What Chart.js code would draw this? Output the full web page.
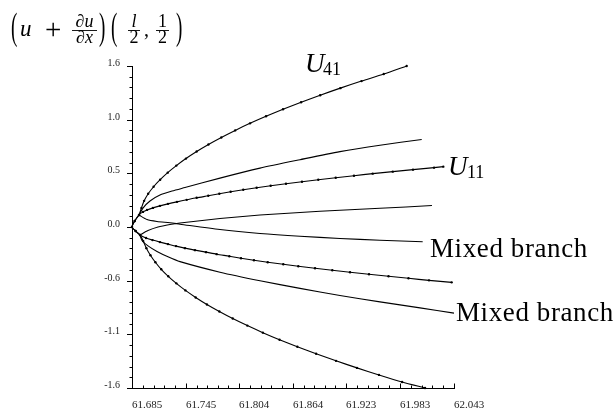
<!DOCTYPE html>
<html>
<head>
<meta charset="utf-8">
<script src="https://cdn.jsdelivr.net/npm/chart.js@4.4.0/dist/chart.umd.min.js"></script>
<style>
  html, body { margin: 0; padding: 0; background: #fff; }
  #wrap { width: 616px; height: 409px; }
</style>
</head>
<body>
<div id="wrap"><canvas id="branchChart" width="616" height="409"></canvas></div>
<script>
// Axis tick labels as printed on the figure
const xTickLabels = ["61.685", "61.745", "61.804", "61.864", "61.923", "61.983", "62.043"];
const yTickLabels = ["-1.6", "-1.1", "-0.6", "0.0", "0.5", "1.0", "1.6"];

// U41 branch (with markers), lower end -> nose -> upper end
const u41X = [62.0108, 61.9853, 61.9596, 61.9351, 61.9118, 61.8897, 61.8688, 61.849, 61.8305, 61.8132,
  61.797, 61.7821, 61.7683, 61.7558, 61.7444, 61.7343, 61.7253, 61.7175, 61.711, 61.7055,
  61.701, 61.6975, 61.694, 61.689, 61.685, 61.688, 61.6928, 61.6955, 61.6985, 61.703,
  61.709, 61.7163, 61.7247, 61.7343, 61.745, 61.7569, 61.770, 61.7843, 61.7997, 61.8162,
  61.834, 61.8529, 61.873, 61.8942, 61.9166, 61.9402, 61.9649, 61.9904];
const u41Y = [-1.60, -1.54, -1.47, -1.40, -1.33, -1.26, -1.19, -1.12, -1.05, -0.98,
  -0.91, -0.84, -0.77, -0.70, -0.63, -0.56, -0.49, -0.42, -0.35, -0.28,
  -0.21, -0.14, -0.08, -0.04, 0.00, 0.06, 0.12, 0.19, 0.26, 0.33,
  0.40, 0.47, 0.54, 0.61, 0.68, 0.75, 0.82, 0.89, 0.96, 1.03,
  1.10, 1.17, 1.24, 1.31, 1.38, 1.45, 1.52, 1.60];

// U11 branch (with markers)
const u11X = [62.0404, 62.0152, 61.9924, 61.9702, 61.9485, 61.9274, 61.9077, 61.8885, 61.8699, 61.8532,
  61.8359, 61.8206, 61.8062, 61.7932, 61.7792, 61.7673, 61.755, 61.7439, 61.7339, 61.725,
  61.7161, 61.7078, 61.7006, 61.6939, 61.689, 61.685, 61.688, 61.6928, 61.6972, 61.7017,
  61.7083, 61.7161, 61.725, 61.735, 61.7458, 61.7569, 61.7698, 61.7821, 61.7947, 61.8087,
  61.8236, 61.8392, 61.8562, 61.874, 61.8921, 61.9115, 61.9318, 61.9526, 61.9749, 61.9974,
  62.0208, 62.0311];
const u11Y = [-0.55, -0.53, -0.51, -0.49, -0.47, -0.45, -0.43, -0.41, -0.39, -0.37,
  -0.35, -0.33, -0.31, -0.29, -0.27, -0.25, -0.23, -0.21, -0.19, -0.17,
  -0.15, -0.13, -0.11, -0.08, -0.04, 0.00, 0.06, 0.12, 0.15, 0.17,
  0.19, 0.21, 0.23, 0.25, 0.27, 0.29, 0.31, 0.33, 0.35, 0.37,
  0.39, 0.41, 0.43, 0.45, 0.47, 0.49, 0.51, 0.53, 0.55, 0.57,
  0.59, 0.60];

// Mixed branches (plain lines)
const mixAX = [61.6928, 61.6972, 61.705, 61.7161, 61.7295, 61.7439, 61.7828, 61.8273, 61.8718, 61.9162, 61.9607, 62.0071];
const mixAY = [0.119, 0.188, 0.258, 0.317, 0.357, 0.392, 0.486, 0.585, 0.669, 0.749, 0.813, 0.870];
const mixBX = [61.6939, 61.7028, 61.7139, 61.7272, 61.7384, 61.7828, 61.8273, 61.8718, 61.9162, 61.9607, 62.0185];
const mixBY = [-0.079, -0.035, 0.000, 0.025, 0.040, 0.084, 0.119, 0.144, 0.167, 0.186, 0.213];
const mixCX = [61.6928, 61.7017, 61.7128, 61.7272, 61.7384, 61.7828, 61.8273, 61.8718, 61.9162, 61.9607, 62.0082];
const mixCY = [0.119, 0.074, 0.055, 0.042, 0.028, -0.025, -0.064, -0.092, -0.114, -0.131, -0.146];
const mixDX = [61.6939, 61.6961, 61.7028, 61.7128, 61.725, 61.7384, 61.7828, 61.8273, 61.8718, 61.9162, 61.9607, 62.0052, 62.043];
const mixDY = [-0.079, -0.134, -0.188, -0.243, -0.296, -0.344, -0.449, -0.534, -0.610, -0.680, -0.744, -0.804, -0.856];

const SERIF = '"Liberation Serif", "Times New Roman", serif';

function toPoints(xs, ys) {
    return xs.map((x, i) => ({ x: x, y: ys[i] }));
}

function branch(label, xs, ys, dots) {
    return {
        label: label,
        data: toPoints(xs, ys),
        showLine: true,
        borderColor: "#000",
        backgroundColor: "#000",
        borderWidth: 1.1,
        pointRadius: dots ? 1.2 : 0,
        pointBorderWidth: 0,
        tension: 0.25,
        clip: false,
    };
}

// small tick marks (major + 4 minor) like the original plot
const tickMarks = {
    id: "tickMarks",
    afterDraw(chart) {
        const ctx = chart.ctx;
        const xs = chart.scales.x;
        const ys = chart.scales.y;
        const area = chart.chartArea;
        ctx.save();
        ctx.strokeStyle = "#000";
        ctx.lineWidth = 1;
        ctx.beginPath();
        const xt = xs.ticks.map((t) => xs.getPixelForValue(t.value));
        xt.forEach((px, i) => {
            ctx.moveTo(Math.round(px) + 0.5, area.bottom);
            ctx.lineTo(Math.round(px) + 0.5, area.bottom - 4.5);
            if (i < xt.length - 1) {
                for (let k = 1; k < 5; k++) {
                    const mx = px + (xt[i + 1] - px) * k / 5;
                    ctx.moveTo(Math.round(mx) + 0.5, area.bottom);
                    ctx.lineTo(Math.round(mx) + 0.5, area.bottom - 2.5);
                }
            }
        });
        const yt = ys.ticks.map((t) => ys.getPixelForValue(t.value));
        yt.forEach((py, i) => {
            ctx.moveTo(area.left, Math.round(py) + 0.5);
            ctx.lineTo(area.left - 5, Math.round(py) + 0.5);
            if (i < yt.length - 1) {
                for (let k = 1; k < 5; k++) {
                    const my = py + (yt[i + 1] - py) * k / 5;
                    ctx.moveTo(area.left, Math.round(my) + 0.5);
                    ctx.lineTo(area.left - 2.5, Math.round(my) + 0.5);
                }
            }
        });
        ctx.stroke();
        ctx.restore();
    },
};

// LaTeX-like title and branch labels
const mathText = {
    id: "mathText",
    afterDraw(chart) {
        const ctx = chart.ctx;
        ctx.save();
        ctx.fillStyle = "#000";
        ctx.strokeStyle = "#000";
        ctx.textBaseline = "alphabetic";

        const paren = (ch, x) => {
            ctx.save();
            ctx.translate(x, 0);
            ctx.scale(0.5, 1);
            ctx.font = "38px " + SERIF;
            ctx.textAlign = "left";
            ctx.fillText(ch, 0, 38.5);
            ctx.restore();
        };
        const frac = (num, den, x0, x1, italicNum, italicDen) => {
            const cx = (x0 + x1) / 2;
            ctx.textAlign = "center";
            ctx.font = (italicNum ? "italic " : "") + "18px " + SERIF;
            ctx.fillText(num, cx, 26.5);
            ctx.font = (italicDen ? "italic " : "") + "18px " + SERIF;
            ctx.fillText(den, cx, 43);
            ctx.lineWidth = 0.9;
            ctx.beginPath();
            ctx.moveTo(x0, 30.5);
            ctx.lineTo(x1, 30.5);
            ctx.stroke();
        };

        // (u + du/dx)(l/2, 1/2)
        paren("(", 11);
        ctx.textAlign = "left";
        ctx.font = "italic 23px " + SERIF;
        ctx.fillText("u", 20, 36);
        ctx.font = "29px " + SERIF;
        ctx.fillText("+", 45, 38.5);
        frac("\u2202u", "\u2202x", 72, 97, true, true);
        paren(")", 99);
        paren("(", 111);
        frac("l", "2", 128, 140, true, false);
        ctx.textAlign = "left";
        ctx.font = "20px " + SERIF;
        ctx.fillText(",", 144, 36);
        frac("1", "2", 156, 169, false, false);
        paren(")", 176);

        // branch labels
        ctx.textAlign = "left";
        ctx.font = "italic 27px " + SERIF;
        ctx.fillText("U", 305, 71.5);
        ctx.fillText("U", 448, 174.5);
        ctx.font = "18px " + SERIF;
        ctx.fillText("41", 323, 75);
        ctx.fillText("11", 467, 177.5);

        ctx.font = "27px " + SERIF;
        ctx.letterSpacing = "0.6px";
        ctx.fillText("Mixed branch", 430, 256.5);
        ctx.fillText("Mixed branch", 456, 320.5);
        ctx.restore();
    },
};

function initChart() {
    const ctx = document.getElementById("branchChart").getContext("2d");
    const xVals = xTickLabels.map(Number);

    new Chart(ctx, {
        type: "scatter",
        data: {
            datasets: [
                branch("U41", u41X, u41Y, true),
                branch("U11", u11X, u11Y, true),
                branch("Mixed A", mixAX, mixAY, false),
                branch("Mixed B", mixBX, mixBY, false),
                branch("Mixed C", mixCX, mixCY, false),
                branch("Mixed D", mixDX, mixDY, false),
            ],
        },
        options: {
            responsive: false,
            animation: false,
            events: [],
            layout: { padding: { top: 66, right: 162, left: 0, bottom: 0 } },
            plugins: {
                legend: { display: false },
                tooltip: { enabled: false },
            },
            scales: {
                x: {
                    type: "linear",
                    min: xVals[0],
                    max: xVals[xVals.length - 1],
                    afterBuildTicks: (scale) => {
                        scale.ticks = xVals.map((v) => ({ value: v }));
                    },
                    afterFit: (scale) => { scale.height = 21; },
                    ticks: {
                        align: "start",
                        padding: 3,
                        maxRotation: 0,
                        autoSkip: false,
                        color: "#222",
                        font: { family: SERIF, size: 11 },
                        callback: (value, index) => xTickLabels[index],
                    },
                    grid: { display: false },
                    border: { display: true, color: "#000", width: 1 },
                },
                y: {
                    type: "linear",
                    min: -1.6,
                    max: 1.6,
                    afterBuildTicks: (scale) => {
                        const step = (scale.max - scale.min) / (yTickLabels.length - 1);
                        scale.ticks = yTickLabels.map((t, i) => ({ value: scale.min + i * step }));
                    },
                    afterFit: (scale) => { scale.width = 132; },
                    ticks: {
                        padding: 4,
                        labelOffset: -2.5,
                        autoSkip: false,
                        color: "#222",
                        font: { family: SERIF, size: 10 },
                        callback: (value, index) => yTickLabels[index],
                    },
                    grid: { display: false },
                    border: { display: true, color: "#000", width: 1 },
                },
            },
        },
        plugins: [tickMarks, mathText],
    });
}

document.addEventListener("DOMContentLoaded", initChart);
</script>
</body>
</html>
